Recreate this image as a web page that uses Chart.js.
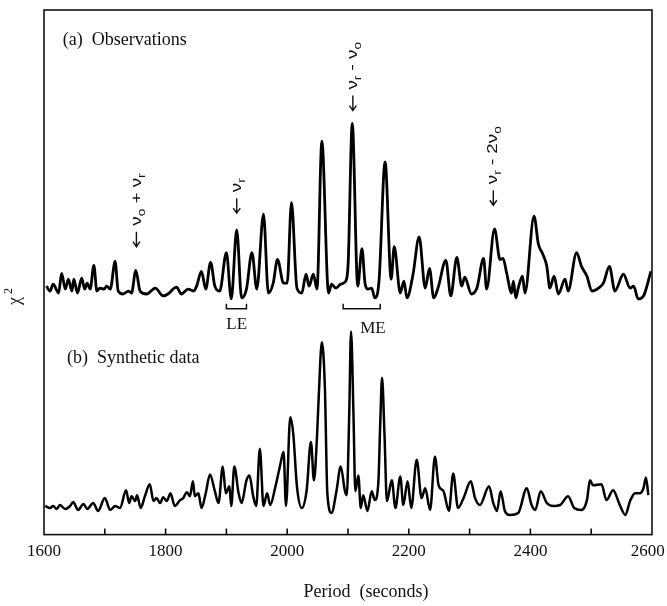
<!DOCTYPE html>
<html lang="en">
<head>
  <meta charset="UTF-8">
  <title>Chi-square periodogram</title>
  <script src="https://cdn.jsdelivr.net/npm/chart.js"></script>
  <style>
    body { margin: 0; background: #fff; }
    canvas { display: block; }
  </style>
</head>
<body>
  <canvas id="chi2Chart" width="667" height="606"></canvas>

  <script>
    // (a) observations, stacked above the synthetic trace
    const obsPeriod = [1604, 1610, 1615, 1624, 1629, 1635, 1640, 1646, 1649, 1655,
      1662, 1667, 1671, 1676, 1682, 1687, 1692, 1699, 1703, 1709,
      1717, 1722, 1730, 1739, 1744, 1751, 1758, 1769, 1783, 1796,
      1804, 1818, 1826, 1837, 1846, 1851, 1859, 1866, 1874, 1881,
      1889, 1900, 1908, 1917, 1925, 1933, 1942, 1950, 1961, 1969,
      1977, 1984, 1994, 2000, 2007, 2016, 2024, 2031, 2036, 2043,
      2049, 2057, 2068, 2073, 2080, 2088, 2095, 2100, 2107, 2116,
      2123, 2128, 2133, 2139, 2144, 2151, 2161, 2171, 2176, 2186,
      2192, 2197, 2207, 2217, 2227, 2234, 2241, 2248, 2261, 2269,
      2279, 2287, 2292, 2303, 2312, 2323, 2328, 2341, 2350, 2355,
      2361, 2369, 2372, 2376, 2380, 2387, 2391, 2406, 2413, 2420,
      2427, 2432, 2439, 2446, 2457, 2462, 2476, 2484, 2493, 2501,
      2512, 2520, 2530, 2539, 2553, 2564, 2570, 2577, 2586, 2596, 2598];
    const obsChi = [252, 247, 254, 245, 265, 249, 259, 247, 259, 245,
      260, 249, 255, 249, 273, 247, 250, 249, 252, 249,
      277, 247, 244, 247, 245, 268, 247, 244, 250, 242,
      244, 251, 244, 249, 247, 252, 267, 249, 276, 252,
      247, 286, 239, 309, 240, 249, 286, 249, 325, 245,
      255, 279, 255, 255, 337, 250, 245, 264, 252, 264,
      249, 399, 245, 254, 250, 254, 256, 272, 417, 252,
      290, 255, 249, 250, 240, 257, 378, 259, 292, 245,
      257, 240, 264, 302, 250, 270, 240, 250, 278, 242,
      281, 252, 261, 244, 250, 280, 249, 310, 279, 280,
      265, 245, 257, 240, 250, 262, 245, 323, 295, 285,
      272, 250, 262, 244, 259, 247, 286, 272, 262, 247,
      250, 255, 272, 247, 264, 250, 252, 239, 242, 262, 267];

    // (b) synthetic data
    const synPeriod = [1602, 1610, 1615, 1621, 1626, 1635, 1643, 1648, 1656, 1665,
      1671, 1681, 1689, 1700, 1709, 1717, 1725, 1735, 1740, 1744,
      1750, 1753, 1759, 1766, 1774, 1780, 1785, 1791, 1796, 1802,
      1808, 1815, 1824, 1829, 1835, 1840, 1845, 1848, 1854, 1859,
      1866, 1873, 1881, 1887, 1894, 1899, 1905, 1908, 1913, 1920,
      1925, 1933, 1938, 1944, 1949, 1955, 1961, 1967, 1972, 1980,
      1988, 1994, 1998, 2005, 2010, 2016, 2024, 2032, 2039, 2044,
      2049, 2052, 2057, 2062, 2066, 2073, 2081, 2088, 2095, 2098,
      2102, 2105, 2109, 2112, 2117, 2121, 2125, 2132, 2139, 2144,
      2150, 2153, 2156, 2160, 2164, 2172, 2178, 2186, 2191, 2198,
      2204, 2213, 2221, 2227, 2235, 2243, 2249, 2257, 2266, 2273,
      2281, 2290, 2302, 2309, 2317, 2332, 2339, 2345, 2351, 2358,
      2366, 2380, 2394, 2402, 2408, 2417, 2427, 2438, 2449, 2462,
      2472, 2484, 2493, 2498, 2503, 2517, 2525, 2536, 2547, 2556,
      2564, 2572, 2580, 2586, 2590, 2594];
    const synChi = [29, 27, 29, 26, 30, 26, 29, 33, 25, 31,
      26, 32, 24, 37, 25, 29, 27, 45, 32, 39,
      34, 40, 27, 39, 51, 34, 37, 32, 38, 34,
      42, 29, 35, 37, 43, 39, 54, 39, 42, 27,
      42, 61, 44, 32, 69, 42, 49, 29, 69, 42,
      32, 55, 60, 39, 29, 87, 29, 42, 30, 47,
      69, 84, 29, 119, 102, 49, 27, 45, 94, 55,
      99, 142, 195, 149, 42, 22, 44, 69, 44, 40,
      122, 206, 122, 44, 60, 27, 40, 24, 44, 35,
      54, 112, 159, 102, 34, 55, 27, 59, 30, 54,
      27, 76, 37, 47, 25, 79, 50, 44, 24, 62,
      27, 37, 54, 37, 30, 49, 32, 24, 44, 24,
      20, 22, 47, 30, 25, 44, 32, 29, 30, 39,
      27, 25, 35, 55, 50, 51, 35, 45, 30, 20,
      34, 42, 42, 47, 58, 40];

    const tickLabels = [1600, 1800, 2000, 2200, 2400, 2600];

    // frequency combinations marked with arrows (arrow tip in data units)
    const arrows = [
      { period: 1752, chi: 292, parts: [['\u03bd'], ['o', 1], [' + \u03bd'], ['r', 1]] },
      { period: 1917, chi: 326, parts: [['\u03bd'], ['r', 1]] },
      { period: 2108, chi: 430, parts: [['\u03bd'], ['r', 1], [' - \u03bd'], ['o', 1]] },
      { period: 2339, chi: 334, parts: [['\u03bd'], ['r', 1], [' - 2\u03bd'], ['o', 1]] }
    ];
    const brackets = [
      { from: 1900, to: 1933, chi: 229, label: 'LE', labelAt: 1917, labelChi: 213 },
      { from: 2092, to: 2153, chi: 229, label: 'ME', labelAt: 2141, labelChi: 209 }
    ];
    const panels = [
      { text: '(a)  Observations', period: 1631, chi: 501 },
      { text: '(b)  Synthetic data', period: 1638, chi: 179 }
    ];

    const serif = '"Liberation Serif", "Times New Roman", serif';
    const sans = '"Liberation Sans", Arial, sans-serif';

    // vertical label reading upwards, with a downward arrow at its foot
    function drawArrowLabel(ctx, parts, px, py, size, stretch) {
      ctx.save();
      ctx.translate(px, py);
      ctx.rotate(-Math.PI / 2);
      ctx.lineWidth = 1.4;
      ctx.beginPath();
      ctx.moveTo(15, 0);
      ctx.lineTo(0, 0);
      ctx.moveTo(5, -3.5);
      ctx.lineTo(0, 0);
      ctx.lineTo(5, 3.5);
      ctx.stroke();
      ctx.translate(21, 0);
      ctx.scale(stretch, 1);
      ctx.textAlign = 'left';
      ctx.textBaseline = 'middle';
      let cx = 0;
      parts.forEach(([txt, sub]) => {
        ctx.font = (sub ? Math.round(size * 0.72) : size) + 'px ' + sans;
        ctx.fillText(txt, cx, sub ? size * 0.34 : 0);
        cx += ctx.measureText(txt).width;
      });
      ctx.restore();
    }

    const decorations = {
      id: 'decorations',
      afterDatasetsDraw(chart) {
        const { ctx, chartArea: a, scales: { x, y } } = chart;
        ctx.save();
        ctx.strokeStyle = '#111';
        ctx.fillStyle = '#111';

        // frame
        ctx.lineWidth = 1.6;
        ctx.strokeRect(a.left, a.top, a.width, a.height);

        // tick marks pointing into the plot
        ctx.beginPath();
        x.ticks.forEach(t => {
          if (t.value <= x.min || t.value >= x.max) return;
          const px = x.getPixelForValue(t.value);
          ctx.moveTo(px, a.bottom);
          ctx.lineTo(px, a.bottom - 6);
        });
        ctx.stroke();

        // LE / ME brackets
        ctx.lineWidth = 1.5;
        brackets.forEach(b => {
          const l = x.getPixelForValue(b.from);
          const r = x.getPixelForValue(b.to);
          const yy = y.getPixelForValue(b.chi);
          ctx.beginPath();
          ctx.moveTo(l, yy - 5);
          ctx.lineTo(l, yy);
          ctx.lineTo(r, yy);
          ctx.lineTo(r, yy - 5);
          ctx.stroke();
          ctx.font = '17px ' + serif;
          ctx.textAlign = 'center';
          ctx.textBaseline = 'middle';
          ctx.fillText(b.label, x.getPixelForValue(b.labelAt), y.getPixelForValue(b.labelChi));
        });

        // panel captions
        ctx.font = '18px ' + serif;
        ctx.textAlign = 'left';
        ctx.textBaseline = 'middle';
        panels.forEach(p => ctx.fillText(p.text, x.getPixelForValue(p.period), y.getPixelForValue(p.chi)));

        // arrow labels
        arrows.forEach(m => drawArrowLabel(ctx, m.parts, x.getPixelForValue(m.period), y.getPixelForValue(m.chi), 15, 1.25));

        // y label: chi squared
        ctx.save();
        ctx.translate(15, 299);
        ctx.rotate(-Math.PI / 2);
        ctx.textAlign = 'left';
        ctx.textBaseline = 'middle';
        ctx.font = '18px ' + serif;
        ctx.fillText('\u03c7', -6, 0);
        ctx.font = '12px ' + serif;
        ctx.fillText('2', 5, -6);
        ctx.restore();

        // x title
        ctx.font = '18px ' + serif;
        ctx.textAlign = 'center';
        ctx.textBaseline = 'middle';
        ctx.fillText('Period  (seconds)', (a.left + a.right) / 2 + 18, 592);

        ctx.restore();
      }
    };

    const toPoints = (px, py) => px.map((p, i) => ({ x: p, y: py[i] }));

    new Chart(document.getElementById('chi2Chart').getContext('2d'), {
      type: 'line',
      data: {
        datasets: [
          { label: 'Observations', data: toPoints(obsPeriod, obsChi), borderColor: '#000', borderWidth: 2.8,
            pointRadius: 0, fill: false, cubicInterpolationMode: 'monotone' },
          { label: 'Synthetic data', data: toPoints(synPeriod, synChi), borderColor: '#000', borderWidth: 2.5,
            pointRadius: 0, fill: false, cubicInterpolationMode: 'monotone' }
        ]
      },
      options: {
        responsive: false,
        animation: false,
        layout: { padding: { top: 10, right: 15, bottom: 37, left: 44 } },
        scales: {
          x: {
            type: 'linear',
            min: 1600,
            max: 2600,
            grid: { display: false, drawTicks: false },
            border: { display: false },
            // end labels may overhang the frame; don't let them shrink the plot
            afterFit: scale => { scale.paddingLeft = 0; scale.paddingRight = 0; },
            ticks: {
              stepSize: 100,
              autoSkip: false,
              maxRotation: 0,
              padding: 7,
              color: '#111',
              font: { family: serif, size: 17 },
              // the last label is nudged left so it stays on the canvas
              callback: v => !tickLabels.includes(v) ? '' : v === 2600 ? '2600\u2002' : String(v)
            }
          },
          y: {
            display: false,
            min: 0,
            max: 532
          }
        },
        plugins: {
          legend: { display: false },
          tooltip: { enabled: false }
        }
      },
      plugins: [decorations]
    });
  </script>
</body>
</html>
